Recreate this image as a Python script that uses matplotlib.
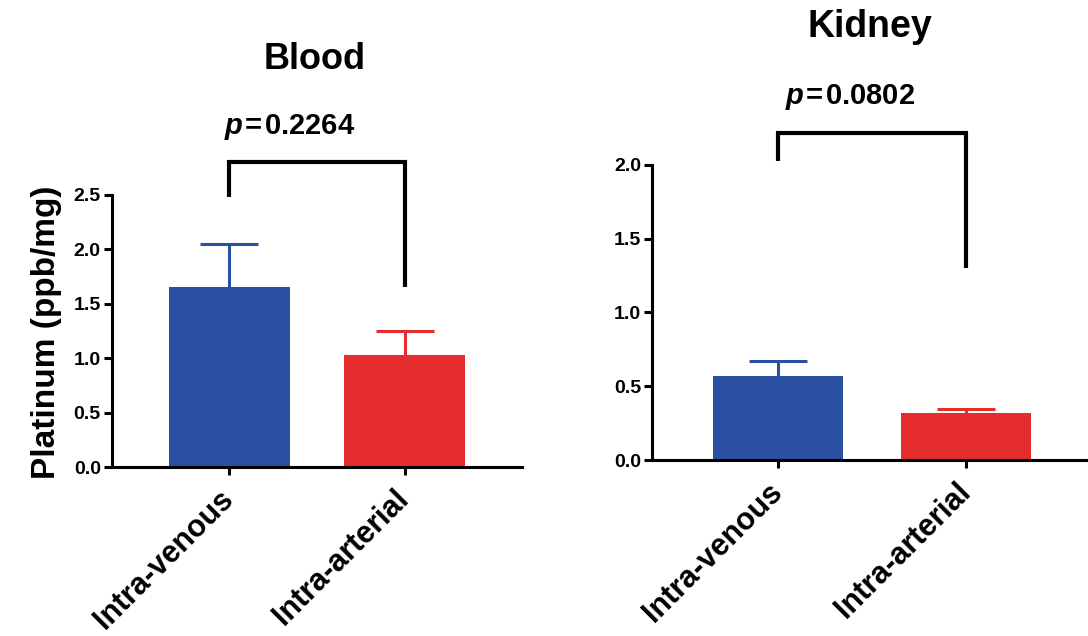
import matplotlib
matplotlib.use("Agg")
import matplotlib.pyplot as plt

plt.rcParams["font.family"] = ["Liberation Sans", "DejaVu Sans"]
plt.rcParams["font.weight"] = "bold"
plt.rcParams["mathtext.fontset"] = "custom"
plt.rcParams["mathtext.it"] = "Liberation Sans:italic:bold"
plt.rcParams["mathtext.rm"] = "Liberation Sans:bold"

# Данные
groups = ["Intra-venous", "Intra-arterial"]
colors = ["#2b4fa1", "#e52d2e"]

blood_mean = [1.65, 1.03]
blood_sem = [0.40, 0.22]
blood_p = "0.2264"

kidney_mean = [0.57, 0.32]
kidney_sem = [0.10, 0.025]
kidney_p = "0.0802"

fig = plt.figure(figsize=(10.88, 6.36), dpi=100)
ax1 = fig.add_axes([0.1029, 0.2657, 0.3768, 0.4277])
ax2 = fig.add_axes([0.5993, 0.2767, 0.4007, 0.4639])


def draw_panel(ax, means, errs, ymax, yticks, bracket):
    x = list(range(len(groups)))
    ax.bar(x, means, width=0.69, color=colors, zorder=2)
    for xi, m, e, c in zip(x, means, errs, colors):
        _, caps, _ = ax.errorbar(xi, m, yerr=[[0], [e]], fmt="none", ecolor=c,
                                 elinewidth=2.2, capsize=21, capthick=2.2, zorder=1)
        caps[0].set_visible(False)  # нижний "ус" не нужен
    ax.set_xlim(-0.67, 1.67)
    ax.set_ylim(0, ymax)
    ax.set_yticks(yticks)
    ax.set_yticklabels([f"{t:.1f}" for t in yticks], fontsize=14, fontweight="bold")
    ax.set_xticks(x)
    ax.set_xticklabels(groups, rotation=45, ha="right", va="center",
                       rotation_mode="anchor", fontsize=22, fontweight="bold")
    for s in ["top", "right"]:
        ax.spines[s].set_visible(False)
    for s in ["left", "bottom"]:
        ax.spines[s].set_linewidth(2.2)
    ax.tick_params(axis="y", width=2.2, length=6, pad=2)
    ax.tick_params(axis="x", width=2.2, length=6, pad=14)
    # скобка значимости
    y_left, y_top, y_right = bracket
    ax.plot([0, 0, 1, 1], [y_left, y_top, y_top, y_right], color="black",
            lw=3, clip_on=False, solid_capstyle="butt", solid_joinstyle="miter")


draw_panel(ax1, blood_mean, blood_sem, 2.5, [0, 0.5, 1.0, 1.5, 2.0, 2.5],
           (2.48, 2.80, 1.65))
draw_panel(ax2, kidney_mean, kidney_sem, 2.0, [0, 0.5, 1.0, 1.5, 2.0],
           (2.03, 2.22, 1.30))
ax2.set_xlim(-0.67, 1.65)

fig.text(0.043, 0.478, "Platinum (ppb/mg)", rotation=90, ha="center", va="center",
         fontsize=24, fontweight="bold")

fig.text(0.2895, 0.907, "Blood", ha="center", va="center", fontsize=26, fontweight="bold")
fig.text(0.7996, 0.958, "Kidney", ha="center", va="center", fontsize=27, fontweight="bold")

fig.text(0.2665, 0.800, r"$\mathit{p}$" + "\u200a=\u200a" + blood_p, ha="center", va="center",
         fontsize=21, fontweight="bold")
fig.text(0.7812, 0.847, r"$\mathit{p}$" + "\u200a=\u200a" + kidney_p, ha="center", va="center",
         fontsize=21, fontweight="bold")

plt.savefig("out.png", dpi=100)
plt.close(fig)
